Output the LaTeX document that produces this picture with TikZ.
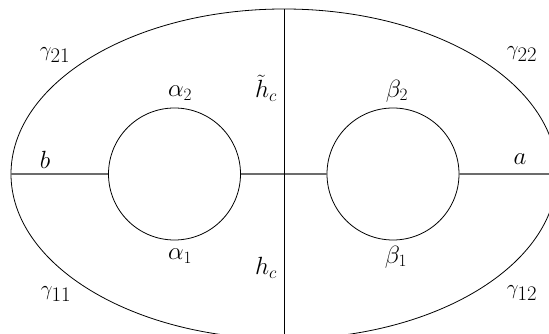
\documentclass[tikz,border=0pt]{standalone}
\usepackage{amsmath}
\usepackage{amssymb}
\usepackage{tikz}
\usepackage{xcolor}

\begin{document}
\begin{tikzpicture}[x=1pt,y=1pt,
    thin line/.style={line width=0.8pt,black},
    cut line/.style={line width=1.1pt,gray!85!black},
    hole/.style={circle,draw,line width=0.8pt,minimum size=132pt,inner sep=0pt},
    lbl/.style={font=\fontsize{25}{28}\selectfont,inner sep=1pt},
    glbl/.style={font=\fontsize{22}{26}\selectfont,inner sep=1pt}]
  \useasboundingbox (0,0) rectangle (549,334);
  \clip (0,0) rectangle (549,334);

  % outer boundary
  \draw[thin line] (284,160) ellipse (273pt and 165pt);
  \coordinate (W) at (11,160);
  \coordinate (E) at (557,160);
  \coordinate (N) at (284,325);
  \coordinate (S) at (284,-5);

  % holes
  \node[hole] (left) at (174.5,160) {};
  \node[hole] (right) at (393,160) {};

  % cuts
  \draw[cut line] (W) -- (left.west);
  \draw[cut line] (left.east) -- (right.west);
  \draw[cut line] (right.east) -- (E);
  \draw[thin line] (N) -- (S);

  % labels
  \node[glbl] (g21) at (55,279) {$\gamma_{\textstyle 21}$};
  \node[glbl] (g22) at (522,280) {$\gamma_{\textstyle 22}$};
  \node[glbl] (g11) at (56,40) {$\gamma_{\textstyle 11}$};
  \node[glbl] (g12) at (522,41) {$\gamma_{\textstyle 12}$};
  \node[lbl] (a2) at (180,241) {$\alpha_2$};
  \node[lbl] (a1) at (180,78) {$\alpha_1$};
  \node[lbl] (b2) at (397,243) {$\beta_2$};
  \node[lbl] (b1) at (396,77) {$\beta_1$};
  \node[lbl] (ht) at (266,246) {$\tilde{h}_c$};
  \node[lbl] (h) at (266,66) {$h_c$};
  \node[lbl] (lb) at (45,174) {$b$};
  \node[lbl] (la) at (520,175) {$a$};
\end{tikzpicture}
\end{document}
